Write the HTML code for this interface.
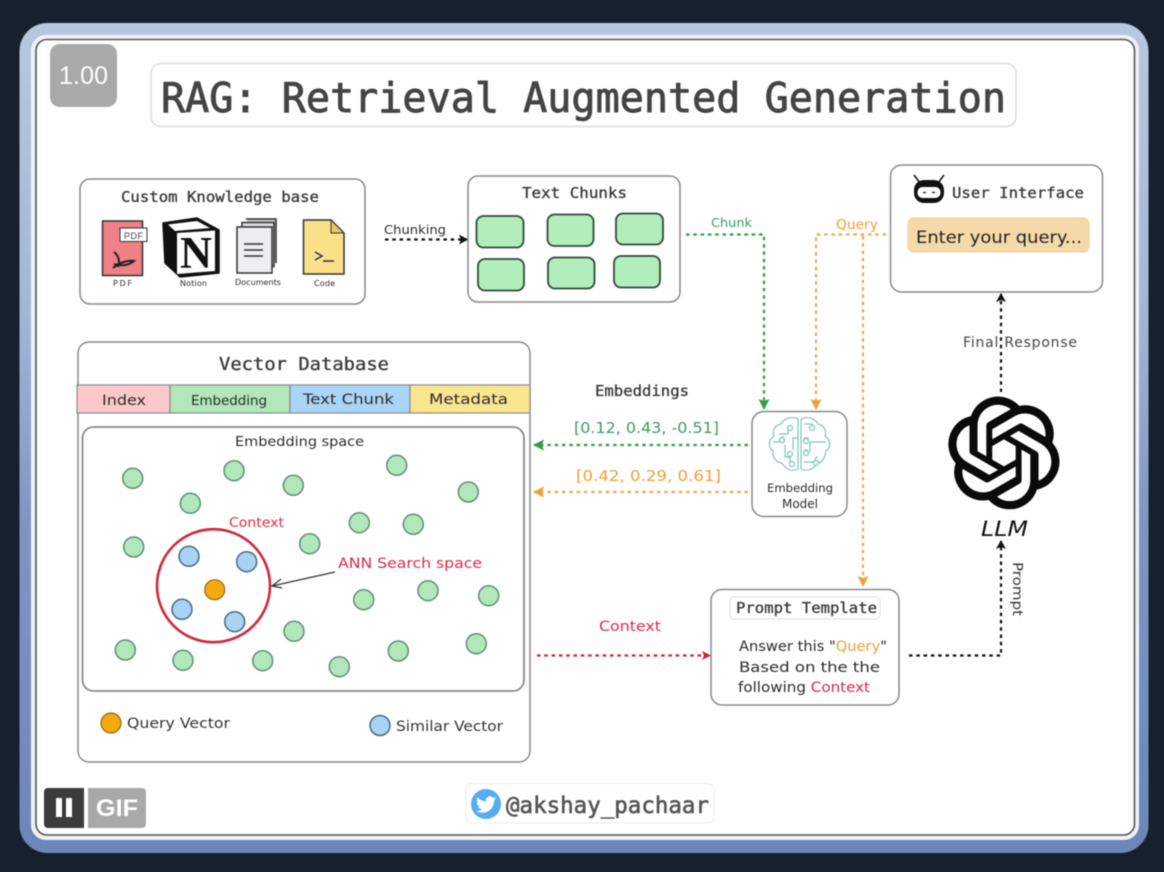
<!DOCTYPE html>
<html><head><meta charset="utf-8"><style>
html,body{margin:0;padding:0;background:#16212d;width:1164px;height:872px;overflow:hidden}
svg{display:block;filter:blur(.45px)}
.m{font-family:"DejaVu Sans Mono","Liberation Mono",monospace;fill:#3c3c3c;stroke:#3c3c3c;stroke-width:.35}
.h{font-family:"DejaVu Sans","Liberation Sans",sans-serif;fill:#2b2b2b}
.box{fill:#fff;stroke:#8a8a8a;stroke-width:1.5}
.g{fill:#b2e6bb;stroke:#5d8f73;stroke-width:1.5}
.b{fill:#a9d3f2;stroke:#46688a;stroke-width:1.5}
.c{fill:#b2eebb;stroke:#2f4a3a;stroke-width:1.8}
.d{fill:none;stroke-width:2.200;stroke-dasharray:3.500 3.800}
.br{fill:none;stroke:#7fc4b8;stroke-width:1.2}
</style></head><body>
<svg width="1164" height="872" viewBox="0 0 1164 872" xmlns="http://www.w3.org/2000/svg">
<defs>
<linearGradient id="fr" x1="0" y1="0" x2="0" y2="1"><stop offset="0" stop-color="#b7c8df"/><stop offset=".35" stop-color="#a3b6d6"/><stop offset=".6" stop-color="#7f96c4"/><stop offset="1" stop-color="#6d86bb"/></linearGradient>
<marker id="ak" markerWidth="9" markerHeight="10" refX="8" refY="5" orient="auto" markerUnits="userSpaceOnUse"><path d="M0 0L9 5L0 10L2 5Z" fill="#111"/></marker>
<marker id="ag" markerWidth="11" markerHeight="11" refX="10" refY="5.500" orient="auto" markerUnits="userSpaceOnUse"><path d="M0 0L11 5.500L0 11L2 5.500Z" fill="#2f9e44"/></marker>
<marker id="ao" markerWidth="11" markerHeight="11" refX="10" refY="5.500" orient="auto" markerUnits="userSpaceOnUse"><path d="M0 0L11 5.500L0 11L2 5.500Z" fill="#ee9f35"/></marker>
<marker id="ar" markerWidth="9" markerHeight="9" refX="8" refY="4.500" orient="auto" markerUnits="userSpaceOnUse"><path d="M0 0L9 4.500L0 9L2 4.500Z" fill="#d0202f"/></marker>
</defs>
<rect width="1164" height="872" fill="#16212d"/>
<rect x="19.500" y="23" width="1129" height="830" rx="28" fill="url(#fr)"/>
<rect x="31" y="35" width="1108" height="805" rx="15" fill="#eef2f8"/>
<rect x="36" y="39.500" width="1098.500" height="795.500" rx="11" fill="#fff" stroke="#555" stroke-width="1.600"/>

<!-- title -->
<rect x="151" y="63.500" width="865" height="63" rx="10" fill="#fff" stroke="#dcdcdc" stroke-width="1.500"/>
<text x="161" y="112" class="m" font-size="41" textLength="845" lengthAdjust="spacingAndGlyphs" style="fill:#444;stroke:#444;stroke-width:.9">RAG: Retrieval Augmented Generation</text>

<!-- knowledge base -->
<rect x="80" y="179" width="285" height="125" rx="10" class="box"/>
<text x="121" y="202" class="m" font-size="15" textLength="198" lengthAdjust="spacingAndGlyphs">Custom Knowledge base</text>
<rect x="102.500" y="221" width="40" height="54.500" fill="#ee8086" stroke="#333" stroke-width="1.500"/>
<rect x="120" y="228" width="27" height="13.500" fill="#fff" stroke="#333"/>
<text x="124" y="239" font-family="Liberation Sans,sans-serif" font-size="9" fill="#444" textLength="19">PDF</text>
<path d="M114 252c5 4 6 9 4 15M113 268c6-5 14-8 21-7c-6 5-14 5-20 3" fill="none" stroke="#222" stroke-width="2"/>
<text x="113" y="286" class="h" font-size="8" textLength="19">PDF</text>
<path d="M163 223L197 218L219 230L219 273L180 277L165 263Z" fill="#111" stroke="#111" stroke-width="1.500" stroke-linejoin="round"/>
<path d="M168 224.500L197 221L210 228L175 231Z" fill="#fff"/>
<path d="M177 233L215 230.500V271L177 274Z" fill="#fff"/>
<text x="180" y="268" font-family="Liberation Serif,serif" font-weight="700" font-size="45" fill="#111" textLength="32" lengthAdjust="spacingAndGlyphs">N</text>
<text x="180" y="286" class="h" font-size="8" textLength="27">Notion</text>
<path d="M246 219h30v44" fill="#ccc" stroke="#333" stroke-width="1.500"/>
<rect x="242" y="222.500" width="32" height="44" fill="#ddd" stroke="#333" stroke-width="1.500"/>
<rect x="237" y="227" width="35" height="46" fill="#eceef0" stroke="#333" stroke-width="1.500"/>
<path d="M244 244h19M244 250h19M244 256h19" stroke="#333" stroke-width="1.500"/>
<text x="235" y="285" class="h" font-size="8" textLength="46" lengthAdjust="spacingAndGlyphs">Documents</text>
<path d="M303.500 220H331L344 233V274H303.500Z" fill="#fbe08a" stroke="#333" stroke-width="1.500"/>
<path d="M331 220L344 233H331Z" fill="#e9c866" stroke="#333"/>
<path d="M315 252l7 4l-7 4M323 261h11" fill="none" stroke="#333" stroke-width="1.500"/>
<text x="314" y="286" class="h" font-size="8" textLength="21">Code</text>

<!-- chunking -->
<text x="384" y="234" class="h" font-size="12.500" textLength="62" lengthAdjust="spacingAndGlyphs">Chunking</text>
<path d="M385 239.500H467" class="d" stroke="#111" marker-end="url(#ak)"/>

<!-- text chunks -->
<rect x="468" y="176" width="212" height="126" rx="10" class="box"/>
<text x="522" y="198" class="m" font-size="15" textLength="105" lengthAdjust="spacingAndGlyphs">Text Chunks</text>
<rect x="476.500" y="216" width="47" height="31.500" rx="7" class="c"/>
<rect x="547.500" y="214.500" width="46" height="31.500" rx="7" class="c"/>
<rect x="616" y="213.500" width="47" height="31" rx="7" class="c"/>
<rect x="478" y="259" width="46" height="31.500" rx="7" class="c"/>
<rect x="548" y="257.500" width="46.500" height="31" rx="7" class="c"/>
<rect x="614" y="256" width="46" height="31.500" rx="7" class="c"/>

<!-- chunk & query connectors -->
<text x="711" y="227" class="h" font-size="12.500" textLength="41" lengthAdjust="spacingAndGlyphs" style="fill:#3a9a63">Chunk</text>
<path d="M686 234.500H764V409" class="d" stroke="#2f9e44" marker-end="url(#ag)"/>
<text x="836" y="229" class="h" font-size="13" textLength="42" lengthAdjust="spacingAndGlyphs" style="fill:#ee9f35">Query</text>
<path d="M886 234.500H816V409" class="d" stroke="#f0a650" marker-end="url(#ao)"/>
<path d="M863 236V586" class="d" stroke="#f0a650" marker-end="url(#ao)"/>

<!-- user interface -->
<rect x="890.500" y="165" width="212" height="127" rx="11" class="box"/>
<path d="M914 175l6 8M944 175l-6 8" stroke="#111" stroke-width="1.500"/>
<rect x="914" y="180" width="30" height="23" rx="10" fill="#111"/>
<rect x="917.500" y="187" width="23" height="11" rx="5" fill="#fff"/>
<path d="M923 192.500h3M932 192.500h3" stroke="#111" stroke-width="1.300"/>
<text x="952" y="198" class="m" font-size="15.500" textLength="132" lengthAdjust="spacingAndGlyphs">User Interface</text>
<rect x="908" y="218" width="181" height="34" rx="6" fill="#f6d9a8" stroke="#e5cfa5"/>
<text x="916" y="243" class="h" font-size="17" textLength="166" lengthAdjust="spacingAndGlyphs" style="fill:#222">Enter your query...</text>

<!-- final response -->
<path d="M1001 392V294" class="d" stroke="#111" marker-end="url(#ak)"/>
<text x="963" y="347" class="h" font-size="14" textLength="114" lengthAdjust="spacing" style="fill:#444">Final Response</text>

<!-- LLM -->
<path transform="translate(948,397) scale(4.660)" fill="#0a0a0a" stroke="#0a0a0a" stroke-width=".18" d="M22.2819 9.8211a5.9847 5.9847 0 0 0-.5157-4.9108 6.0462 6.0462 0 0 0-6.5098-2.9A6.0651 6.0651 0 0 0 4.9807 4.1818a5.9847 5.9847 0 0 0-3.9977 2.9 6.0462 6.0462 0 0 0 .7427 7.0966 5.98 5.98 0 0 0 .511 4.9107 6.051 6.051 0 0 0 6.5146 2.9001A5.9847 5.9847 0 0 0 13.2599 24a6.0557 6.0557 0 0 0 5.7718-4.2058 5.9894 5.9894 0 0 0 3.9977-2.9001 6.0557 6.0557 0 0 0-.7475-7.0729zm-9.022 12.6081a4.4755 4.4755 0 0 1-2.8764-1.0408l.1419-.0804 4.7783-2.7582a.7948.7948 0 0 0 .3927-.6813v-6.7369l2.02 1.1686a.071.071 0 0 1 .038.052v5.5826a4.504 4.504 0 0 1-4.4945 4.4944zm-9.6607-4.1254a4.4708 4.4708 0 0 1-.5346-3.0137l.142.0852 4.783 2.7582a.7712.7712 0 0 0 .7806 0l5.8428-3.3685v2.3324a.0804.0804 0 0 1-.0332.0615L9.74 19.9502a4.4992 4.4992 0 0 1-6.1408-1.6464zM2.3408 7.8956a4.485 4.485 0 0 1 2.3655-1.9728V11.6a.7664.7664 0 0 0 .3879.6765l5.8144 3.3543-2.0201 1.1685a.0757.0757 0 0 1-.071 0l-4.8303-2.7865A4.504 4.504 0 0 1 2.3408 7.872zm16.5963 3.8558L13.1038 8.364 15.1192 7.2a.0757.0757 0 0 1 .071 0l4.8303 2.7913a4.4944 4.4944 0 0 1-.6765 8.1042v-5.6772a.79.79 0 0 0-.407-.667zm2.0107-3.0231l-.142-.0852-4.7735-2.7818a.7759.7759 0 0 0-.7854 0L9.409 9.2297V6.8974a.0662.0662 0 0 1 .0284-.0615l4.8303-2.7866a4.4992 4.4992 0 0 1 6.6802 4.66zM8.3065 12.863l-2.02-1.1638a.0804.0804 0 0 1-.038-.0567V6.0742a4.4992 4.4992 0 0 1 7.3757-3.4537l-.142.0805L8.704 5.459a.7948.7948 0 0 0-.3927.6813zm1.0976-2.3654l2.602-1.4998 2.6069 1.4998v2.9994l-2.5974 1.4997-2.6067-1.4997Z"/>
<text x="981" y="536" class="h" font-size="21" textLength="47" lengthAdjust="spacingAndGlyphs" font-style="italic" style="fill:#111">LLM</text>

<!-- prompt connector -->
<path d="M909 655.500H1001V541" class="d" stroke="#111" marker-end="url(#ak)"/>
<text transform="translate(1013,562) rotate(90)" class="h" font-size="13" textLength="54" lengthAdjust="spacingAndGlyphs" style="fill:#333">Prompt</text>

<!-- embedding model -->
<rect x="752" y="411.500" width="95" height="105" rx="12" class="box"/>
<g class="br">
<path d="M798 419c-5-3-14-1-17 5c-6 1-9 7-7 12c-6 4-6 12-1 15c-1 6 3 12 9 12c3 6 9 9 16 6V419Z"/>
<path d="M801 419c6-3 14-1 17 5c6 1 9 7 7 12c6 4 6 12 1 15c-1 6-3 12-9 12c-3 6-10 9-16 6V419Z"/>
<path d="M779 434h9v-6M773 442h10v-6M785 445v12h5v8M793 450v-12h5M804 424h8l2 6M804 438h5M804 450h4M804 462h10l3-6M810 452v-10h16"/>
</g>
<g fill="#fff" stroke="#7fc4b8" stroke-width="1.200"><circle cx="790" cy="428" r="2.500"/><circle cx="782" cy="440" r="2.500"/><circle cx="790" cy="454" r="2.500"/><circle cx="792" cy="464" r="2.500"/><circle cx="812" cy="428" r="2.500"/><circle cx="806" cy="441" r="2.500"/><circle cx="806" cy="453" r="2.500"/><circle cx="816" cy="463" r="2.500"/></g>
<text x="767" y="492" class="h" font-size="11.500" textLength="66" lengthAdjust="spacingAndGlyphs">Embedding</text>
<text x="782" y="508" class="h" font-size="12" textLength="36" lengthAdjust="spacingAndGlyphs">Model</text>

<!-- embeddings -->
<text x="595" y="396" class="m" font-size="15" textLength="94" lengthAdjust="spacingAndGlyphs">Embeddings</text>
<text x="574" y="433" class="h" font-size="15" textLength="145" lengthAdjust="spacingAndGlyphs" style="fill:#3a9a63">[0.12, 0.43, -0.51]</text>
<path d="M748 445H534" class="d" stroke="#2f9e44" marker-end="url(#ag)"/>
<text x="576" y="481" class="h" font-size="15" textLength="145" lengthAdjust="spacingAndGlyphs" style="fill:#ee9f35">[0.42, 0.29, 0.61]</text>
<path d="M748 492H534" class="d" stroke="#f0a650" marker-end="url(#ao)"/>

<!-- prompt template -->
<rect x="711" y="589.500" width="188" height="115.500" rx="11" class="box"/>
<rect x="730" y="597" width="150" height="22" rx="4" fill="#fff" stroke="#ddd"/>
<text x="736" y="613" class="m" font-size="15" textLength="141" lengthAdjust="spacingAndGlyphs">Prompt Template</text>
<text x="739" y="651" class="h" font-size="14.500" textLength="148" lengthAdjust="spacingAndGlyphs">Answer this "<tspan style="fill:#ee9f35">Query</tspan>"</text>
<text x="739" y="672" class="h" font-size="14.500" textLength="141" lengthAdjust="spacingAndGlyphs">Based on the the</text>
<text x="738" y="692" class="h" font-size="14.500" textLength="132" lengthAdjust="spacingAndGlyphs">following <tspan style="fill:#d62c4a">Context</tspan></text>
<text x="599" y="631" class="h" font-size="14" textLength="62" lengthAdjust="spacingAndGlyphs" style="fill:#d62c4a">Context</text>
<path d="M537 655.500H710" class="d" stroke="#d0202f" marker-end="url(#ar)"/>

<!-- vector db -->
<rect x="78" y="342" width="452" height="420" rx="11" class="box"/>
<text x="219" y="370" class="m" font-size="18" textLength="170" lengthAdjust="spacingAndGlyphs">Vector Database</text>
<g stroke="#8a8a8a" stroke-width="1.200">
<rect x="77" y="385" width="93" height="28" fill="#fcc8cb"/>
<rect x="170" y="385" width="120" height="28" fill="#b2e6bb"/>
<rect x="290" y="385" width="120" height="28" fill="#a9d6f8"/>
<rect x="410" y="385" width="120" height="28" fill="#fbe68f"/>
</g>
<text x="102" y="405" class="h" font-size="14" textLength="44" lengthAdjust="spacingAndGlyphs">Index</text>
<text x="191" y="405" class="h" font-size="13.500" textLength="76" lengthAdjust="spacingAndGlyphs">Embedding</text>
<text x="303" y="404" class="h" font-size="14" textLength="91" lengthAdjust="spacingAndGlyphs">Text Chunk</text>
<text x="429" y="404" class="h" font-size="14" textLength="79" lengthAdjust="spacingAndGlyphs">Metadata</text>
<rect x="82.500" y="427" width="441.500" height="264" rx="11" fill="#fff" stroke="#8a8a8a" stroke-width="1.800"/>
<text x="235" y="446" class="h" font-size="13.500" textLength="129" lengthAdjust="spacingAndGlyphs">Embedding space</text>
<g class="g">
<circle cx="132.700" cy="478.300" r="10"/><circle cx="234" cy="470.700" r="10"/><circle cx="293.300" cy="485.300" r="10"/><circle cx="190.300" cy="503.300" r="10"/><circle cx="396.700" cy="465.300" r="10"/><circle cx="468.300" cy="492" r="10"/><circle cx="359.300" cy="522.700" r="10"/><circle cx="413.300" cy="524.300" r="10"/><circle cx="133.700" cy="547" r="10"/><circle cx="309.700" cy="543.700" r="10"/><circle cx="363.700" cy="599.700" r="10"/><circle cx="428" cy="590.700" r="10"/><circle cx="488.700" cy="595.700" r="10"/><circle cx="294" cy="631.300" r="10"/><circle cx="125.300" cy="650" r="10"/><circle cx="183" cy="660.300" r="10"/><circle cx="262.700" cy="660.700" r="10"/><circle cx="339.300" cy="666.700" r="10"/><circle cx="398.300" cy="651" r="10"/><circle cx="476.300" cy="643.700" r="10"/>
</g>
<circle cx="213.500" cy="585.700" r="56.500" fill="none" stroke="#d0283c" stroke-width="2.600"/>
<g class="b"><circle cx="189" cy="556.300" r="10"/><circle cx="246.700" cy="561.700" r="10"/><circle cx="182" cy="609.300" r="10"/><circle cx="234.700" cy="621.700" r="10"/></g>
<circle cx="214.700" cy="589.700" r="10" fill="#f5a90a" stroke="#8a6a20" stroke-width="1.200"/>
<text x="229" y="527" class="h" font-size="13" textLength="55" lengthAdjust="spacingAndGlyphs" style="fill:#d62c3e">Context</text>
<text x="338" y="568" class="h" font-size="14" textLength="144" lengthAdjust="spacingAndGlyphs" style="fill:#d62c4a">ANN Search space</text>
<path d="M335 572L272 586M281 579L272 586L282 588" fill="none" stroke="#333" stroke-width="1.300"/>
<circle cx="111" cy="723" r="10" fill="#f5a90a" stroke="#8a6a20" stroke-width="1.200"/>
<text x="127" y="728" class="h" font-size="14" textLength="103" lengthAdjust="spacingAndGlyphs" style="fill:#333">Query Vector</text>
<circle cx="380" cy="725.500" r="10" class="b"/>
<text x="396" y="731" class="h" font-size="14" textLength="107" lengthAdjust="spacingAndGlyphs" style="fill:#333">Similar Vector</text>

<!-- twitter -->
<rect x="466" y="783.500" width="248" height="39.500" rx="6" fill="#fff" stroke="#ececec"/>
<circle cx="486" cy="804" r="15" fill="#55acee"/>
<path transform="translate(476,794.500) scale(.84)" fill="#fff" d="M23.953 4.57a10 10 0 01-2.825.775 4.958 4.958 0 002.163-2.723c-.951.555-2.005.959-3.127 1.184a4.92 4.92 0 00-8.384 4.482C7.69 8.095 4.067 6.13 1.64 3.162a4.822 4.822 0 00-.666 2.475c0 1.71.87 3.213 2.188 4.096a4.904 4.904 0 01-2.228-.616v.06a4.923 4.923 0 003.946 4.827 4.996 4.996 0 01-2.212.085 4.936 4.936 0 004.604 3.417 9.867 9.867 0 01-6.102 2.105c-.39 0-.779-.023-1.17-.067a13.995 13.995 0 007.557 2.209c9.053 0 13.998-7.496 13.998-13.985 0-.21 0-.42-.015-.63A9.935 9.935 0 0024 4.59z"/>
<text x="506" y="813" class="m" font-size="23" textLength="203" lengthAdjust="spacingAndGlyphs" style="fill:#555;stroke:#555;stroke-width:.6">@akshay_pachaar</text>

<!-- overlays -->
<rect x="50" y="44" width="67" height="63" rx="10" fill="#a9a9a9"/>
<text x="59" y="84" font-family="Liberation Sans,sans-serif" font-size="25" fill="#fff" textLength="49">1.00</text>
<path d="M44 792a4 4 0 0 1 4-4H84V828H48a4 4 0 0 1-4-4Z" fill="#3b3b3b"/>
<rect x="56" y="798" width="6" height="19" fill="#fff"/><rect x="66" y="798" width="6" height="19" fill="#fff"/>
<path d="M88 788H142a4 4 0 0 1 4 4V824a4 4 0 0 1-4 4H88Z" fill="#a9a9a9"/>
<text x="96" y="816" font-family="Liberation Sans,sans-serif" font-weight="700" font-size="24" fill="#fff" textLength="42" lengthAdjust="spacingAndGlyphs">GIF</text>
</svg>
</body></html>
